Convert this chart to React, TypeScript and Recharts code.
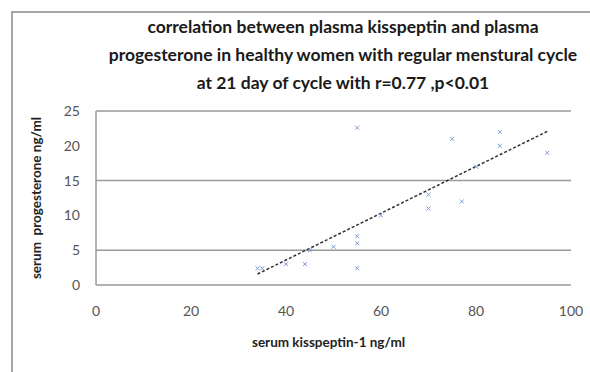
import { Label, ReferenceLine, Scatter, ScatterChart, XAxis, YAxis } from "recharts";

const kisspeptin = [34, 35, 40, 44, 45, 50, 55, 55, 55, 55, 60, 70, 70, 75, 77, 80, 85, 85, 95];
const progesterone = [2.4, 2.4, 3, 3, 5, 5.5, 22.6, 7, 6, 2.4, 10, 13, 11, 21, 12, 17, 22, 20, 19];
const xTicks = [0, 20, 40, 60, 80, 100];
const yTicks = [0, 5, 10, 15, 20, 25];
const gridLines = [5, 15, 25];

const points = kisspeptin.map((x, i) => ({ x, y: progesterone[i] }));

// least squares trendline, drawn between min and max x
const n = points.length;
const mx = kisspeptin.reduce((a, b) => a + b, 0) / n;
const my = progesterone.reduce((a, b) => a + b, 0) / n;
let sxy = 0;
let sxx = 0;
points.forEach((p) => {
  sxy += (p.x - mx) * (p.y - my);
  sxx += (p.x - mx) * (p.x - mx);
});
const slope = sxy / sxx;
const intercept = my - slope * mx;
const x0 = Math.min(...kisspeptin);
const x1 = Math.max(...kisspeptin);

const Cross = (props: any) => {
  const { cx, cy } = props;
  const s = 2;
  return (
    <g stroke="#7b9dd3" strokeWidth={1}>
      <line x1={cx - s} y1={cy - s} x2={cx + s} y2={cy + s} />
      <line x1={cx - s} y1={cy + s} x2={cx + s} y2={cy - s} />
    </g>
  );
};

const font = "Lato, 'Open Sans', sans-serif";

export default function App() {
  return (
    <div style={{ position: "absolute", left: 0, top: 0, width: 590, height: 372, overflow: "hidden", background: "#fff", fontFamily: font }}>
      <div
        style={{
          position: "absolute",
          left: 11,
          top: 11,
          width: 620,
          height: 400,
          borderLeft: "2px solid #a6a6a6",
          borderTop: "2px solid #a6a6a6",
        }}
      />
      <div
        style={{
          position: "absolute",
          left: 80,
          width: 526,
          top: 13,
          textAlign: "center",
          fontSize: 17.5,
          fontWeight: 700,
          lineHeight: "28px",
          color: "#1a1a1a",
        }}
      >
        correlation between plasma kisspeptin and plasma
        <br />
        progesterone in healthy women with regular menstural cycle
        <br />
        at 21 day of cycle with r=0.77 ,p&lt;0.01
      </div>
      <div style={{ position: "absolute", left: 0, top: 0 }}>
        <ScatterChart width={590} height={372} margin={{ top: 111, right: 19, left: 0, bottom: 0 }}>
          <XAxis
            type="number"
            dataKey="x"
            domain={[0, 100]}
            ticks={xTicks}
            height={87}
            tickLine={false}
            tickSize={0}
            tickMargin={21}
            axisLine={{ stroke: "#9a9a9a", strokeWidth: 1.5 }}
            tick={{ fill: "#555", fontSize: 14, fontFamily: font }}
          >
            <Label
              value="serum kisspeptin-1 ng/ml"
              position="insideBottom"
              offset={25}
              dx={-5}
              style={{ fill: "#222", fontSize: 13.5, fontWeight: 700, fontFamily: font }}
            />
          </XAxis>
          <YAxis
            type="number"
            dataKey="y"
            domain={[0, 25]}
            ticks={yTicks}
            width={96}
            tickLine={false}
            tickSize={0}
            tickMargin={16}
            axisLine={{ stroke: "#9a9a9a", strokeWidth: 1.5 }}
            tick={{ fill: "#555", fontSize: 14, fontFamily: font }}
          >
            <Label
              value={"serum\u00a0 progesterone ng/ml"}
              angle={-90}
              position="insideLeft"
              offset={36}
              style={{ fill: "#222", fontSize: 13.5, fontWeight: 700, fontFamily: font, textAnchor: "middle" }}
            />
          </YAxis>
          {gridLines.map((g) => (
            <ReferenceLine key={g} y={g} stroke="#9a9a9a" strokeWidth={1.5} />
          ))}
          <ReferenceLine
            segment={[
              { x: x0, y: slope * x0 + intercept },
              { x: x1, y: slope * x1 + intercept },
            ]}
            stroke="#333"
            strokeWidth={1.5}
            strokeDasharray="3 2"
          />
          <Scatter data={points} shape={Cross} isAnimationActive={false} />
        </ScatterChart>
      </div>
    </div>
  );
}
